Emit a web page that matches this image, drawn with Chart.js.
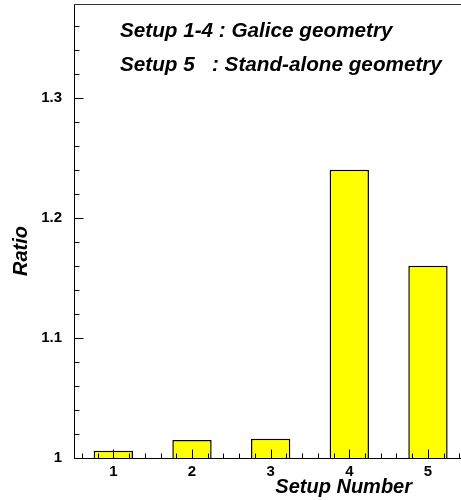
<!DOCTYPE html>
<html>
<head>
<meta charset="utf-8">
<script src="https://cdn.jsdelivr.net/npm/chart.js@4/dist/chart.umd.min.js"></script>
<style>
  html, body { margin: 0; padding: 0; background: #fff; }
  #wrap { width: 461px; height: 500px; position: relative; }
</style>
</head>
<body>
<div id="wrap"><canvas id="c"></canvas></div>
<script>
// Setup numbers and the measured ratio for each setup
const setups = [1, 2, 3, 4, 5];
const ratios = [1.006, 1.015, 1.016, 1.24, 1.16];

// Labelled ticks on each axis
const xTickValues = [1, 2, 3, 4, 5];
const xTickLabels = ['1', '2', '3', '4', '5'];
const yTickValues = [1, 1.1, 1.2, 1.3];
const yTickLabels = ['1', '1.1', '1.2', '1.3'];

// Axis ranges and minor tick spacing
const xRange = [0.5, 5.42];
const yRange = [1, 1.378];
const xMinorStep = 0.2;
const yMinorStep = 0.02;

const xTitle = 'Setup Number';
const yTitle = 'Ratio';
const noteLines = ['Setup 1-4 : Galice geometry', 'Setup 5   : Stand-alone geometry'];

const FONT = '"Liberation Sans", Arial, Helvetica, sans-serif';

function stepsBetween(lo, hi, step) {
  const out = [];
  const n = Math.round((hi - lo) / step);
  for (let i = 0; i <= n; i++) out.push(+(lo + i * step).toFixed(6));
  return out;
}
const xMinor = stepsBetween(0.6, 5.4, xMinorStep);
const yMinor = stepsBetween(1.02, 1.36, yMinorStep);

// Ticks pointing into the plot, a top frame line, axis titles and the note
const frameAndText = {
  id: 'frameAndText',
  afterDatasetsDraw(chart) {
    const { ctx, chartArea: a, scales: { x, y } } = chart;
    ctx.save();
    ctx.strokeStyle = '#000';
    ctx.lineWidth = 1;
    ctx.beginPath();
    const yb = Math.round(a.bottom) + 0.5;
    xMinor.forEach(v => {
      const p = Math.round(x.getPixelForValue(v)) + 0.5;
      ctx.moveTo(p, yb); ctx.lineTo(p, yb - 5);
    });
    xTickValues.forEach(v => {
      const p = Math.round(x.getPixelForValue(v)) + 0.5;
      ctx.moveTo(p, yb); ctx.lineTo(p, yb - 9);
    });
    const xl = Math.round(a.left) + 0.5;
    yMinor.forEach(v => {
      const p = Math.round(y.getPixelForValue(v)) + 0.5;
      ctx.moveTo(xl, p); ctx.lineTo(xl + 5, p);
    });
    yTickValues.forEach(v => {
      const p = Math.round(y.getPixelForValue(v)) + 0.5;
      ctx.moveTo(xl, p); ctx.lineTo(xl + 9, p);
    });
    ctx.stroke();

    // top frame line
    ctx.strokeStyle = '#333';
    ctx.beginPath();
    ctx.moveTo(a.left, Math.round(a.top) + 0.5);
    ctx.lineTo(a.right, Math.round(a.top) + 0.5);
    ctx.stroke();

    ctx.fillStyle = '#000';
    ctx.textBaseline = 'alphabetic';
    ctx.font = 'italic bold 20px ' + FONT;

    // x title, right aligned under the axis
    ctx.textAlign = 'right';
    ctx.fillText(xTitle, a.left + 338, a.bottom + 35);

    // y title, rotated
    ctx.save();
    ctx.translate(a.left - 47.5, a.top + 247);
    ctx.rotate(-Math.PI / 2);
    ctx.textAlign = 'center';
    ctx.fillText(yTitle, 0, 0);
    ctx.restore();

    // note lines
    ctx.font = 'italic bold 20.7px ' + FONT;
    ctx.textAlign = 'left';
    noteLines.forEach((t, i) => {
      ctx.fillText(t, a.left + 46, a.top + 32.5 + i * 34);
    });
    ctx.restore();
  }
};

new Chart(document.getElementById('c'), {
  type: 'bar',
  data: {
    datasets: [{
      data: setups.map((s, i) => ({ x: s, y: ratios[i] })),
      backgroundColor: '#ffff00',
      borderColor: '#000',
      borderWidth: 1.5,
      borderSkipped: false,
      barPercentage: 0.5,
      categoryPercentage: 1.0
    }]
  },
  options: {
    responsive: true,
    maintainAspectRatio: false,
    animation: false,
    events: [],
    layout: { padding: { top: 4, right: 0, left: 0, bottom: 0 } },
    plugins: { legend: { display: false }, tooltip: { enabled: false } },
    scales: {
      x: {
        type: 'linear',
        min: xRange[0],
        max: xRange[1],
        offset: false,
        grid: { display: true, drawOnChartArea: false, drawTicks: false },
        border: { display: true, color: '#000', width: 1 },
        afterBuildTicks: s => { s.ticks = xTickValues.map(v => ({ value: v })); },
        afterFit: s => { s.height = 42; s.paddingLeft = 0; s.paddingRight = 0; },
        ticks: {
          padding: 5,
          color: '#000',
          font: { family: FONT, size: 15, weight: 'bold' },
          maxRotation: 0,
          autoSkip: false,
          callback: v => xTickLabels[xTickValues.indexOf(v)]
        }
      },
      y: {
        type: 'linear',
        min: yRange[0],
        max: yRange[1],
        grid: { display: true, drawOnChartArea: false, drawTicks: false },
        border: { display: true, color: '#000', width: 1 },
        afterBuildTicks: s => { s.ticks = yTickValues.map(v => ({ value: v })); },
        afterFit: s => { s.width = 74; s.paddingTop = 0; s.paddingBottom = 0; },
        ticks: {
          padding: 12,
          color: '#000',
          font: { family: FONT, size: 15, weight: 'bold' },
          autoSkip: false,
          callback: v => yTickLabels[yTickValues.indexOf(v)]
        }
      }
    }
  },
  plugins: [frameAndText]
});
</script>
</body>
</html>
